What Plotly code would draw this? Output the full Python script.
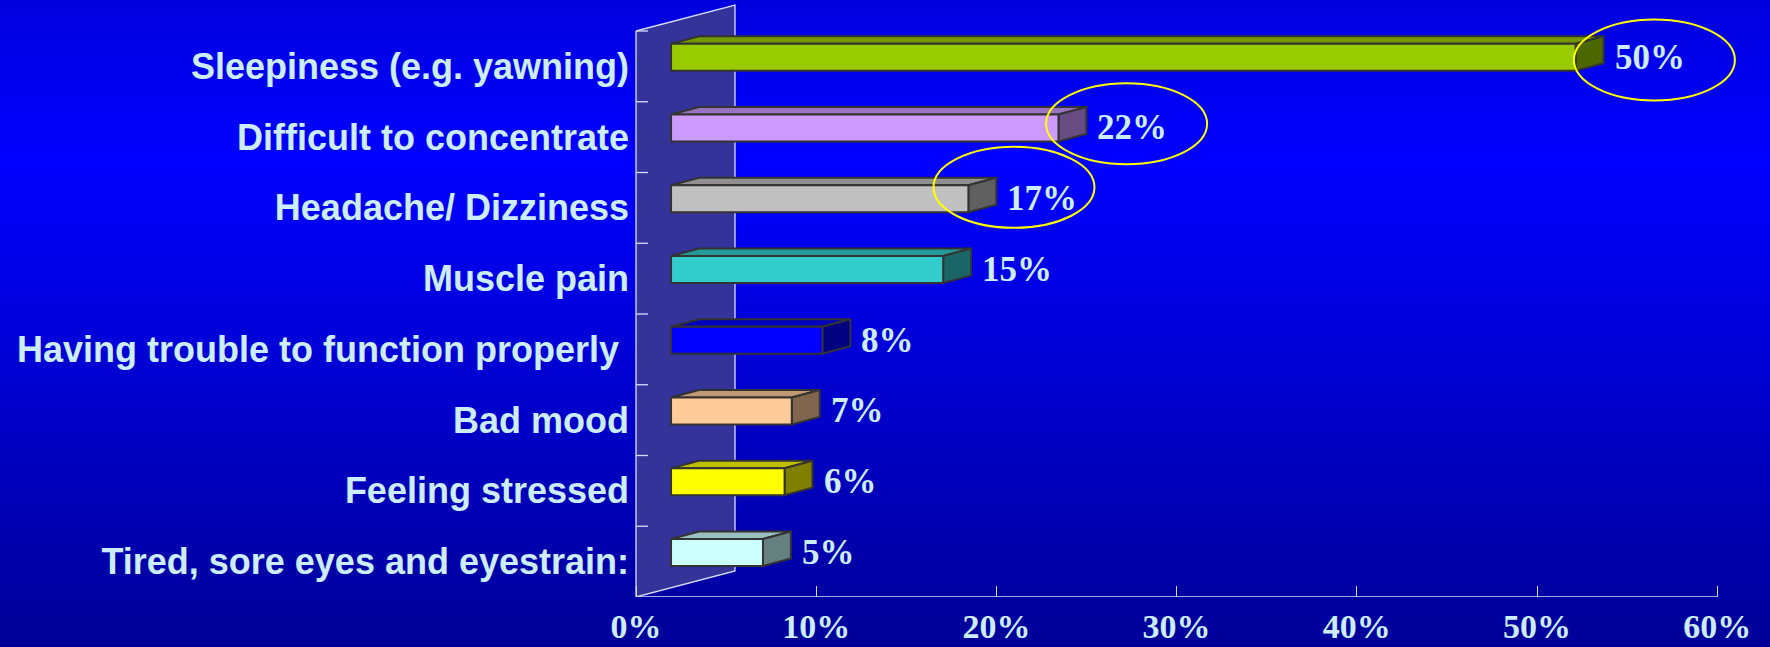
import plotly.graph_objects as go

# ---------------- data ----------------
categories = [
    "Sleepiness (e.g. yawning)",
    "Difficult to concentrate",
    "Headache/ Dizziness",
    "Muscle pain",
    "Having trouble to function properly ",
    "Bad mood",
    "Feeling stressed",
    "Tired, sore eyes and eyestrain:",
]
values = [50.2, 21.5, 16.5, 15.1, 8.4, 6.7, 6.3, 5.1]
value_labels = ["50%", "22%", "17%", "15%", "8%", "7%", "6%", "5%"]
x_ticks = [0, 10, 20, 30, 40, 50, 60]
x_tick_labels = ["0%", "10%", "20%", "30%", "40%", "50%", "60%"]
highlighted = [0, 1, 2]

# ---------------- style ----------------
front_colors = ["#99CC00", "#CC99FF", "#C0C0C0", "#33CCCC",
                "#0000FF", "#FFCC99", "#FFFF00", "#CCFFFF"]
TEXT = "#CCECFF"
EDGE = "#333333"
WALL = "#333399"
WALL_EDGE = "#D8DCFF"
W, H = 1770, 647
B_MARGIN = 50
PX_PER_PCT = 18.02           # pixels per 1 %
X0_PX = 636                  # pixel of 0 % on front plane
BAND_PX = 70.75              # pixel height of a category band
TOP_PX = 31                  # top of first band (front plane)
DEPTH_X = 99 / PX_PER_PCT    # wall depth in % units
DEPTH_Y = -26 / BAND_PX      # wall depth in category units
F0, F1 = 0.354, 0.636        # bar front/back position in depth
BAR_H = 27 / BAND_PX
LABEL_GAP = 37 / PX_PER_PCT
# ellipse nudges relative to bar end (x in %, y in category units)
ellipse_nudge = {0: (4.37, 0.04), 1: (3.78, -0.06), 2: (2.53, -0.16)}
ELL_RX = 80.5 / PX_PER_PCT
ELL_RY = 40.5 / BAND_PX


def shade(hexc, f):
    h = hexc.lstrip("#")
    r, g, b = (int(h[i:i + 2], 16) for i in (0, 2, 4))
    return "rgb(%d,%d,%d)" % (round(r * f), round(g * f), round(b * f))


n = len(categories)
fig = go.Figure()

# background gradient (stripes in paper coords)
plot_h = H - B_MARGIN
shapes = []
step = 4
for py in range(0, H, step):
    c = py + step / 2
    if c <= 160:
        blue = 222 + (255 - 222) * c / 160
    else:
        blue = 255 - (255 - 152) * (c - 160) / (H - 160)
    shapes.append(dict(type="rect", xref="paper", yref="paper",
                       x0=0, x1=1,
                       y0=(plot_h - (py + step)) / plot_h,
                       y1=(plot_h - py) / plot_h,
                       fillcolor="rgb(0,0,%d)" % round(blue),
                       line=dict(width=0), layer="below"))

# side wall
top_u = -0.5
bot_u = n - 0.5
fig.add_trace(go.Scatter(
    x=[0, DEPTH_X, DEPTH_X, 0, 0],
    y=[top_u, top_u + DEPTH_Y, bot_u + DEPTH_Y, bot_u, top_u],
    mode="lines", fill="toself", fillcolor=WALL,
    line=dict(color=WALL_EDGE, width=1.3), hoverinfo="skip"))

# category tick marks on the wall
tx, ty = [], []
for k in range(n):
    b = k - 0.5
    tx += [0, 12 / PX_PER_PCT, None]
    ty += [b, b, None]
fig.add_trace(go.Scatter(x=tx, y=ty, mode="lines",
                         line=dict(color=WALL_EDGE, width=1.3),
                         hoverinfo="skip"))

# floor front edge
fig.add_trace(go.Scatter(x=[0, x_ticks[-1]], y=[bot_u, bot_u], mode="lines",
                         line=dict(color=WALL_EDGE, width=1.5),
                         hoverinfo="skip"))

# 3D bars
bdx = (F1 - F0) * DEPTH_X
bdy = (F1 - F0) * DEPTH_Y
annotations = []
for i, (v, col) in enumerate(zip(values, front_colors)):
    uc = i + F0 * DEPTH_Y
    ut, ub = uc - BAR_H / 2, uc + BAR_H / 2
    xl = F0 * DEPTH_X
    xr = v + F0 * DEPTH_X
    edge = dict(color=EDGE, width=2)
    # top face
    fig.add_trace(go.Scatter(
        x=[xl, xr, xr + bdx, xl + bdx, xl],
        y=[ut, ut, ut + bdy, ut + bdy, ut],
        mode="lines", fill="toself", fillcolor=shade(col, 0.75),
        line=edge, hoverinfo="skip"))
    # side face
    fig.add_trace(go.Scatter(
        x=[xr, xr + bdx, xr + bdx, xr, xr],
        y=[ut, ut + bdy, ub + bdy, ub, ut],
        mode="lines", fill="toself", fillcolor=shade(col, 0.5),
        line=edge, hoverinfo="skip"))
    # front face
    fig.add_trace(go.Scatter(
        x=[xl, xr, xr, xl, xl],
        y=[ut, ut, ub, ub, ut],
        mode="lines", fill="toself", fillcolor=col,
        line=edge, hoverinfo="skip"))
    annotations.append(dict(
        x=xr + LABEL_GAP, y=uc, xref="x", yref="y",
        text=value_labels[i], showarrow=False,
        xanchor="left", yanchor="middle",
        font=dict(family="Liberation Serif", size=35, color=TEXT,
                  weight="bold")))
    if i in highlighted:
        nx, ny = ellipse_nudge[i]
        cx, cy = xr + nx, uc + ny
        shapes.append(dict(type="circle", xref="x", yref="y",
                           x0=cx - ELL_RX, x1=cx + ELL_RX,
                           y0=cy - ELL_RY, y1=cy + ELL_RY,
                           line=dict(color="#FFFF00", width=2),
                           layer="above"))

x_min = -X0_PX / PX_PER_PCT
x_max = (W - X0_PX) / PX_PER_PCT
y_top = -TOP_PX / BAND_PX - 0.5

fig.update_layout(
    template="none",
    width=W, height=H,
    margin=dict(l=0, r=0, t=0, b=B_MARGIN, pad=0, autoexpand=False),
    paper_bgcolor="rgb(0,0,200)",
    plot_bgcolor="rgba(0,0,0,0)",
    showlegend=False,
    shapes=shapes,
    annotations=annotations,
    xaxis=dict(range=[x_min, x_max], showgrid=False, zeroline=False,
               showline=False, tickmode="array", tickvals=x_ticks,
               ticktext=x_tick_labels, ticks="inside", ticklen=11,
               tickwidth=1.3, tickcolor=WALL_EDGE, automargin=False,
               ticklabelstandoff=6,
               tickfont=dict(family="Liberation Serif", size=34,
                             color=TEXT, weight="bold"),
               fixedrange=True),
    yaxis=dict(range=[bot_u, y_top], anchor="free",
               position=X0_PX / W, side="left",
               showgrid=False, zeroline=False, showline=False,
               tickmode="array", tickvals=list(range(n)),
               ticktext=categories, ticks="", automargin=False,
               ticklabelstandoff=7,
               tickfont=dict(family="Liberation Sans", size=36,
                             color=TEXT, weight="bold"),
               fixedrange=True),
)

fig.write_html(
    "out.html",
    config={"displayModeBar": False},
    post_script="document.body.style.margin='0';"
                "document.body.style.overflow='hidden';",
)
